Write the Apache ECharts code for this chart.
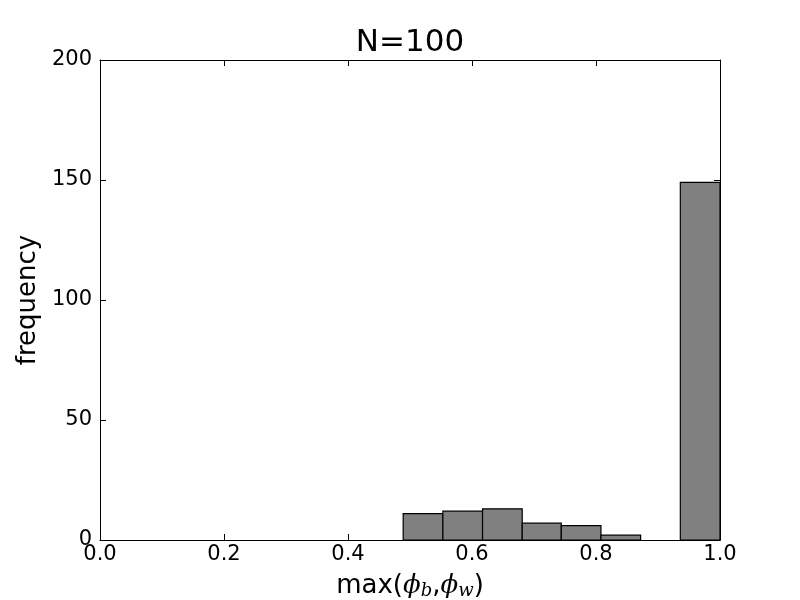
<!DOCTYPE html>
<html><head><meta charset="utf-8">
<script src="https://cdn.jsdelivr.net/npm/echarts@6/dist/echarts.min.js"></script>
<style>html,body{margin:0;padding:0;background:#fff}#c{width:800px;height:600px}</style>
</head><body><div id="c"></div>
<script>
const binEdges = [0.489, 0.553, 0.617, 0.681, 0.744, 0.808, 0.872, 0.936, 1.0];
const counts = [11, 12, 13, 7, 6, 2, 0, 149];
const xTicks = [0.0, 0.2, 0.4, 0.6, 0.8, 1.0];
const yTicks = [0, 50, 100, 150, 200];
const titleText = 'N=100';
const yLabel = 'frequency';

const data = counts.map((c, i) => [binEdges[i], binEdges[i + 1], c]);
const font = 'DejaVu Sans';
const chart = echarts.init(document.getElementById('c'), null, {renderer: 'canvas'});
const axisCommon = {
  axisLine: {show: true, onZero: false, lineStyle: {color: '#000', width: 1}},
  axisTick: {show: true, inside: true, length: 6, lineStyle: {color: '#000'}},
  splitLine: {show: false}
};
chart.setOption({
  animation: false,
  grid: {left: 100, right: 80, top: 60, bottom: 60},
  xAxis: [
    Object.assign({type: 'value', min: 0, max: 1, interval: 0.2, position: 'bottom',
      axisLabel: {fontFamily: font, fontSize: 21, color: '#000', margin: 4, formatter: v => v.toFixed(1)},
      name: '', }, axisCommon),
    Object.assign({type: 'value', min: 0, max: 1, interval: 0.2, position: 'top', axisLabel: {show: false}}, axisCommon)
  ],
  yAxis: [
    Object.assign({type: 'value', min: 0, max: 200, interval: 50, position: 'left',
      axisLabel: {fontFamily: font, fontSize: 21, color: '#000', margin: 8},
      name: yLabel, nameLocation: 'middle', nameGap: 49, nameRotate: 90,
      nameTextStyle: {fontFamily: font, fontSize: 26, color: '#000'}}, axisCommon),
    Object.assign({type: 'value', min: 0, max: 200, interval: 50, position: 'right', axisLabel: {show: false}}, axisCommon)
  ],
  graphic: [{
    type: 'text', x: 410, y: 43,
    style: {
      text: titleText, textAlign: 'center', textVerticalAlign: 'middle',
      font: '31px "DejaVu Sans"', fill: '#000'
    }
  }, {
    type: 'text', x: 410, y: 586,
    style: {
      text: 'max({i|ϕ}{s|b},{i|ϕ}{s|w})', textAlign: 'center', textVerticalAlign: 'middle',
      font: '26px "DejaVu Sans"', fill: '#000',
      rich: {
        i: {fontFamily: 'DejaVu Serif', fontStyle: 'italic', fontSize: 26, fill: '#000'},
        s: {fontFamily: 'DejaVu Serif', fontStyle: 'italic', fontSize: 18, fill: '#000', padding: [10, 0, 0, 0]}
      }
    }
  }],
  series: [{
    type: 'custom',
    xAxisIndex: 0, yAxisIndex: 0,
    data: data,
    encode: {x: [0, 1], y: 2},
    renderItem: function (params, api) {
      const p0 = api.coord([api.value(0), 0]);
      const p1 = api.coord([api.value(1), api.value(2)]);
      if (api.value(2) <= 0) return null;
      return {
        type: 'rect',
        shape: {x: p0[0], y: p1[1], width: p1[0] - p0[0], height: p0[1] - p1[1]},
        style: {fill: '#808080', stroke: '#000', lineWidth: 1.2}
      };
    }
  }]
});
</script></body></html>
